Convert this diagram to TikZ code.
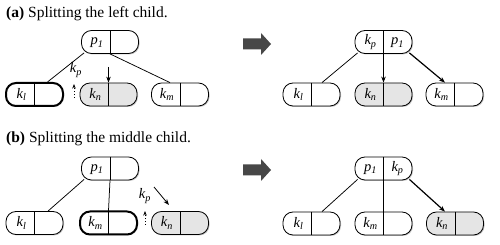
\documentclass[tikz,border=0pt]{standalone}
\usepackage{fontspec}
\setmainfont{Liberation Serif}
\usetikzlibrary{shadows,arrows.meta,calc}

\tikzset{
  pill/.style={draw, rounded corners=10pt, minimum width=57pt, minimum height=23pt,
    inner sep=0pt, fill=white, line width=0.8pt,
    drop shadow={shadow xshift=1pt, shadow yshift=-1pt, opacity=0.45}},
  heavy/.style={line width=2pt},
  shaded/.style={fill=gray!20},
  key/.style={font=\fontsize{14.5}{16}\selectfont\itshape, inner sep=0pt},
  title/.style={font=\fontsize{15.5}{18}\selectfont, inner sep=0pt, anchor=base west},
  link/.style={line width=0.75pt},
  ptr/.style={line width=1.2pt, -{Stealth[length=6pt,width=4.5pt]}},
  thinptr/.style={line width=0.8pt, -{Stealth[length=6pt,width=4.5pt]}},
  uptr/.style={line width=0.9pt, dotted, -{Stealth[length=4.5pt,width=3.5pt]}},
  bigarrow/.style={fill=black!72},
}

% divider line inside a two-slot node
\newcommand\divider[1]{\draw[link] (#1.north) -- (#1.south);}

\begin{document}
\begin{tikzpicture}[x=1pt,y=-1pt]
  \useasboundingbox (0,0) rectangle (500,245);

  % ---------- (a) splitting the left child ----------
  \node[title] (ta) at (6,17.5) {\textbf{(a)} Splitting the left child.};

  \node[pill] (aP) at (110,42) {};
  \divider{aP}
  \node[key] (aPl) at ($(aP.center)+(-13,1)$) {p\textsubscript{1}};

  \node[pill, heavy] (aL) at (34.5,94.5) {};
  \divider{aL}
  \node[key] (aLl) at ($(aL.center)+(-13,0)$) {k\textsubscript{l}};

  \node[pill, shaded] (aN) at (108.5,94.5) {};
  \divider{aN}
  \node[key] (aNl) at ($(aN.center)+(-13,0)$) {k\textsubscript{n}};

  \node[pill] (aM) at (180,94.5) {};
  \divider{aM}
  \node[key] (aMl) at ($(aM.center)+(-13,0)$) {k\textsubscript{m}};

  \draw[link] ([xshift=3pt,yshift=1pt]aP.south west) -- ([xshift=13pt]aL.north);
  \draw[link] (aP.south) -- ([xshift=-10pt]aM.north);
  \coordinate (aIn) at (108.5,67);
  \draw[thinptr] (aIn) -- (aN.north);
  \node[key] (aKp) at (76,70) {k\textsubscript{p}};
  \coordinate (aUp) at (74,98);
  \draw[uptr] (aUp) -- (74,84);

  % step arrow
  \fill[bigarrow] (243,38.5) -- (261,38.5) -- (261,33) -- (271,44) -- (261,55) -- (261,49.5) -- (243,49.5) -- cycle;

  \node[pill] (AP) at (383.5,42) {};
  \divider{AP}
  \node[key] (APl) at ($(AP.center)+(-13,0)$) {k\textsubscript{p}};
  \node[key] (APr) at ($(AP.center)+(14,1)$) {p\textsubscript{1}};

  \node[pill] (AL) at (311.5,94.5) {};
  \divider{AL}
  \node[key] (ALl) at ($(AL.center)+(-13,0)$) {k\textsubscript{l}};

  \node[pill, shaded] (AN) at (383.5,94.5) {};
  \divider{AN}
  \node[key] (ANl) at ($(AN.center)+(-13,0)$) {k\textsubscript{n}};

  \node[pill] (AM) at (454.5,94.5) {};
  \divider{AM}
  \node[key] (AMl) at ($(AM.center)+(-13,0)$) {k\textsubscript{m}};

  \draw[link] ([xshift=3pt,yshift=1pt]AP.south west) -- ([xshift=10.5pt]AL.north);
  \draw[ptr] (AP.south) -- (AN.north);
  \draw[ptr] ([xshift=-3pt,yshift=1pt]AP.south east) -- ([xshift=-9.5pt]AM.north);

  % ---------- (b) splitting the middle child ----------
  \node[title] (tb) at (6,143) {\textbf{(b)} Splitting the middle child.};

  \node[pill] (bP) at (110,168.5) {};
  \divider{bP}
  \node[key] (bPl) at ($(bP.center)+(-13,1)$) {p\textsubscript{1}};

  \node[pill] (bL) at (34.5,223) {};
  \divider{bL}
  \node[key] (bLl) at ($(bL.center)+(-13,0)$) {k\textsubscript{l}};

  \node[pill, heavy] (bM) at (108.5,223) {};
  \divider{bM}
  \node[key] (bMl) at ($(bM.center)+(-13,0)$) {k\textsubscript{m}};

  \node[pill, shaded] (bN) at (180,223) {};
  \divider{bN}
  \node[key] (bNl) at ($(bN.center)+(-13,0)$) {k\textsubscript{n}};

  \draw[link] ([xshift=3pt,yshift=1pt]bP.south west) -- ([xshift=13.5pt]bL.north);
  \draw[link] (bP.south) -- (bM.north);
  \node[key] (bKp) at (145,196) {k\textsubscript{p}};
  \coordinate (bUp) at (145,225);
  \draw[uptr] (bUp) -- (145,211);
  \coordinate (bIn) at (154,187);
  \coordinate (bTip) at (169,205);
  \draw[thinptr] (bIn) -- (bTip);

  % step arrow
  \fill[bigarrow] (243,164.5) -- (261,164.5) -- (261,159) -- (271,170) -- (261,181) -- (261,175.5) -- (243,175.5) -- cycle;

  \node[pill] (BP) at (383.5,168.5) {};
  \divider{BP}
  \node[key] (BPl) at ($(BP.center)+(-13,1)$) {p\textsubscript{1}};
  \node[key] (BPr) at ($(BP.center)+(14,0)$) {k\textsubscript{p}};

  \node[pill] (BL) at (311.5,223.5) {};
  \divider{BL}
  \node[key] (BLl) at ($(BL.center)+(-13,0)$) {k\textsubscript{l}};

  \node[pill] (BM) at (383.5,223.5) {};
  \divider{BM}
  \node[key] (BMl) at ($(BM.center)+(-13,0)$) {k\textsubscript{m}};

  \node[pill, shaded] (BN) at (455,223.5) {};
  \divider{BN}
  \node[key] (BNl) at ($(BN.center)+(-13,0)$) {k\textsubscript{n}};

  \draw[link] ([xshift=3pt,yshift=1pt]BP.south west) -- ([xshift=10.5pt]BL.north);
  \draw[link] (BP.south) -- (BM.north);
  \draw[ptr] ([xshift=-3pt,yshift=1pt]BP.south east) -- ([xshift=-10pt]BN.north);
\end{tikzpicture}
\end{document}
